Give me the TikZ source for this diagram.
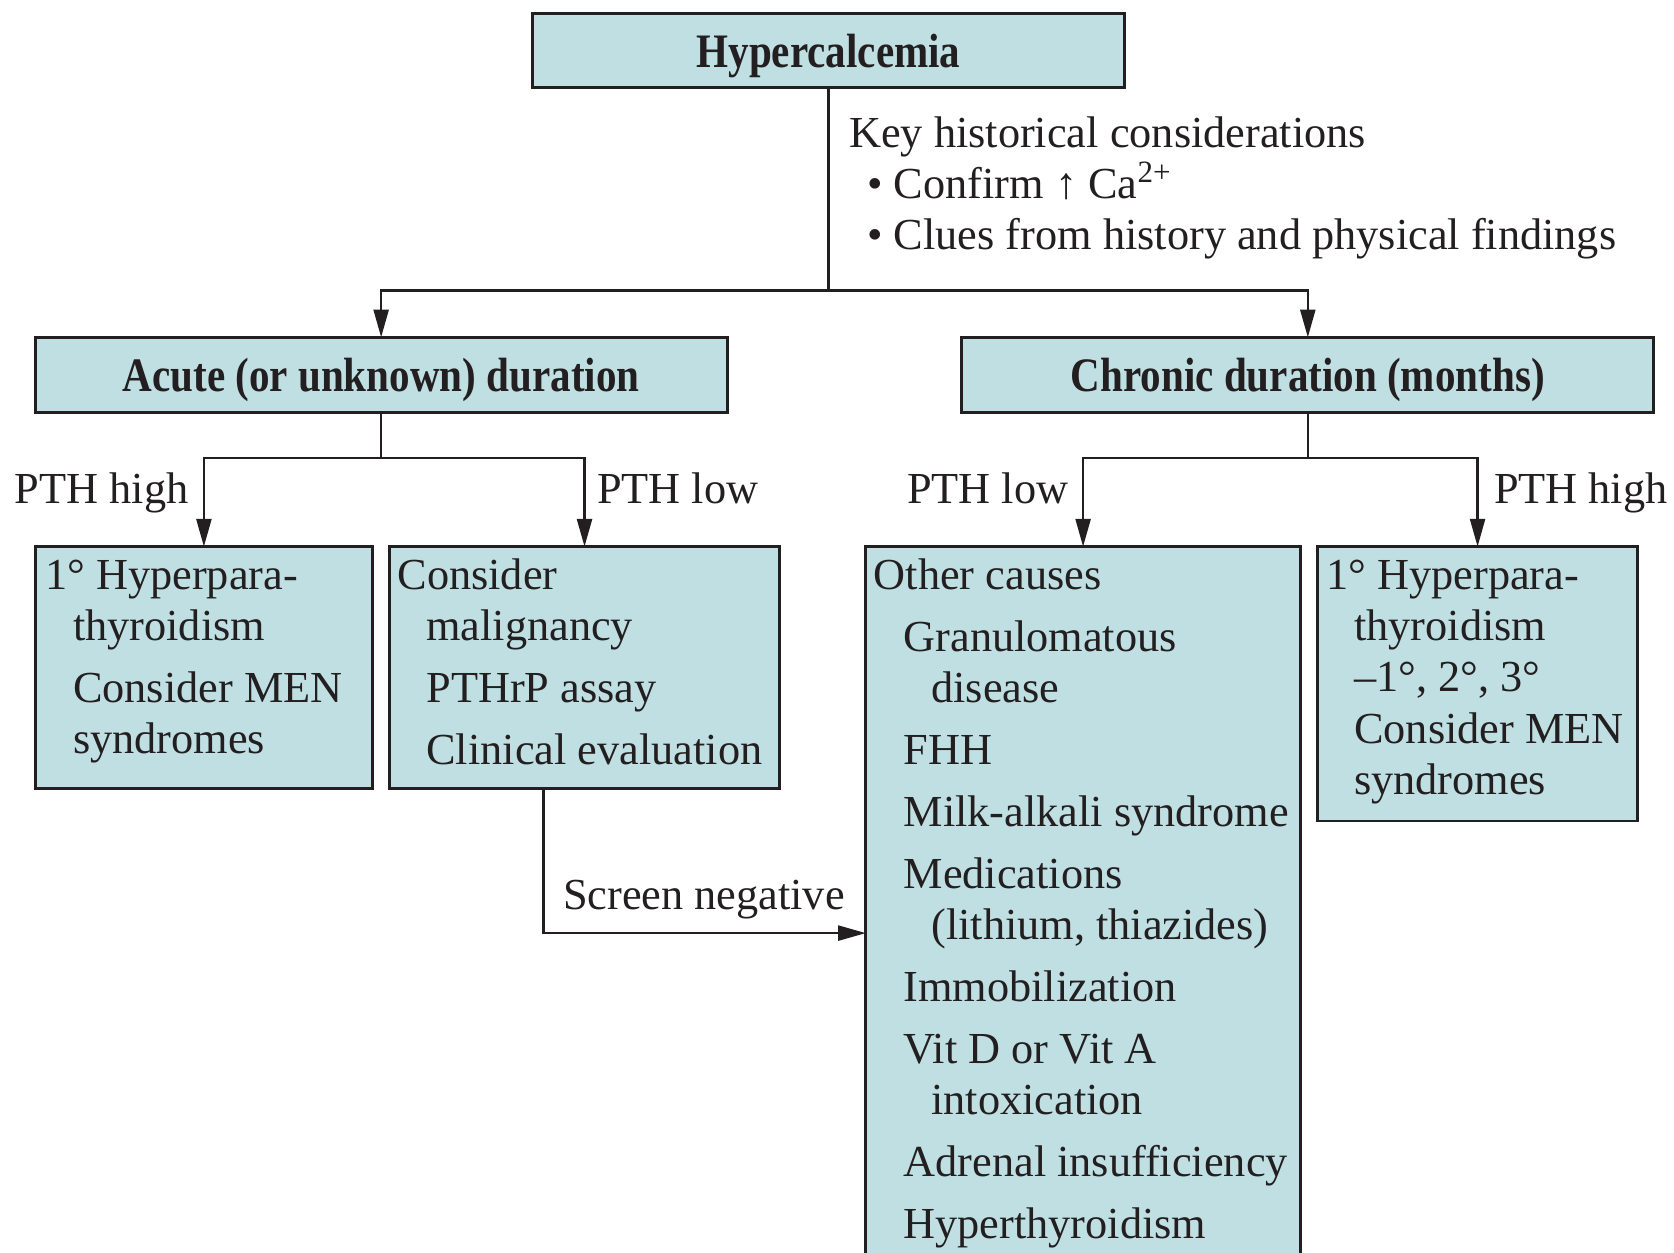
\documentclass[tikz,border=0pt]{standalone}
\usepackage{fontspec}
\setmainfont{Liberation Serif}
\newfontfamily\headfont[FakeStretch=0.855]{Liberation Serif}
\usetikzlibrary{arrows.meta}
\definecolor{boxfill}{RGB}{191,223,226}
\definecolor{ink}{RGB}{35,31,32}
\begin{document}
\begin{tikzpicture}[x=0.5pt,y=-0.5pt,
  box/.style={draw=ink, line width=1.4pt, fill=boxfill, inner sep=0pt, outer sep=0pt, anchor=north west},
  head/.style={font=\headfont\bfseries\fontsize{22.5}{26}\selectfont, text=ink, text depth=0pt},
  txt/.style={font=\fontsize{20.75}{24}\selectfont, text=ink, inner sep=0pt, anchor=base west},
  rtxt/.style={txt, anchor=base east},
  link/.style={draw=ink, line width=1.2pt},
  arr/.style={link, -{Triangle[length=13pt,width=7pt]}}]

\useasboundingbox (0,0) rectangle (1568,1173);
\clip (0,0) rectangle (1568,1173);

% boxes
\node[box, head, minimum width=277pt, minimum height=34.5pt] (top) at (499,13) {Hypercalcemia};
\node[box, head, minimum width=324pt, minimum height=35pt] (acute) at (33,316) {Acute (or unknown) duration};
\node[box, head, minimum width=324pt, minimum height=35pt] (chronic) at (901,316) {Chronic duration (months)};
\node[box, minimum width=158pt, minimum height=113.5pt] (a1) at (33,512) {};
\node[box, minimum width=182.5pt, minimum height=113.5pt] (a2) at (365,512) {};
\node[box, minimum width=203.5pt, minimum height=340pt] (c1) at (811,512) {};
\node[box, minimum width=150pt, minimum height=128.5pt] (c2) at (1234,512) {};

% connectors
\coordinate (s0) at (top.south |- 0,272);
\draw[link] (top.south) -- (s0);
\draw[arr] (s0) -| (acute.north);
\draw[arr] (s0) -| (chronic.north);

\coordinate (s1) at (acute.south |- 0,429);
\draw[link] (acute.south) -- (s1);
\draw[arr] (s1) -| (a1.north);
\draw[arr] (s1) -| (a2.north);

\coordinate (s2) at (chronic.south |- 0,429);
\draw[link] (chronic.south) -- (s2);
\draw[arr] (s2) -| (c1.north);
\draw[arr] (s2) -| (c2.north);

\draw[arr] (509,0 |- a2.south) |- (c1.west |- 0,874);

% notes and branch labels
\node[txt] (key) at (795,138) {Key historical considerations};
\node[txt] (k1) at (812,186) {\textbullet\ Confirm ↑ Ca\textsuperscript{2+}};
\node[txt] (k2) at (812,234) {\textbullet\ Clues from history and physical findings};
\node[rtxt] (lah) at (177,472) {PTH high};
\node[txt] (lal) at (559,472) {PTH low};
\node[rtxt] (lcl) at (1001,472) {PTH low};
\node[txt] (lch) at (1399,472) {PTH high};
\node[txt] (lsn) at (527,852) {Screen negative};

% box contents
\foreach \t/\x/\y [count=\i] in {
  1° Hyperpara-/42/552, thyroidism/68/600, Consider MEN/68/658, syndromes/68/706}
  \node[txt] (a1l\i) at (\x,\y) {\t};
\foreach \t/\x/\y [count=\i] in {
  Consider/372/552, malignancy/399/600, PTHrP assay/399/658, Clinical evaluation/399/716}
  \node[txt] (a2l\i) at (\x,\y) {\t};
\foreach \t/\x/\y [count=\i] in {
  Other causes/818/552, Granulomatous/846/610, disease/872/658, FHH/846/716,
  Milk-alkali syndrome/846/774, Medications/846/832, {(lithium, thiazides)}/872/880,
  Immobilization/846/938, Vit D or Vit A/846/996, intoxication/872/1044,
  Adrenal insufficiency/846/1102, Hyperthyroidism/846/1160}
  \node[txt] (c1l\i) at (\x,\y) {\t};
\foreach \t/\x/\y [count=\i] in {
  1° Hyperpara-/1242/552, thyroidism/1268/600, {–1°, 2°, 3°}/1268/648,
  Consider MEN/1268/696, syndromes/1268/744}
  \node[txt] (c2l\i) at (\x,\y) {\t};
\end{tikzpicture}
\end{document}
